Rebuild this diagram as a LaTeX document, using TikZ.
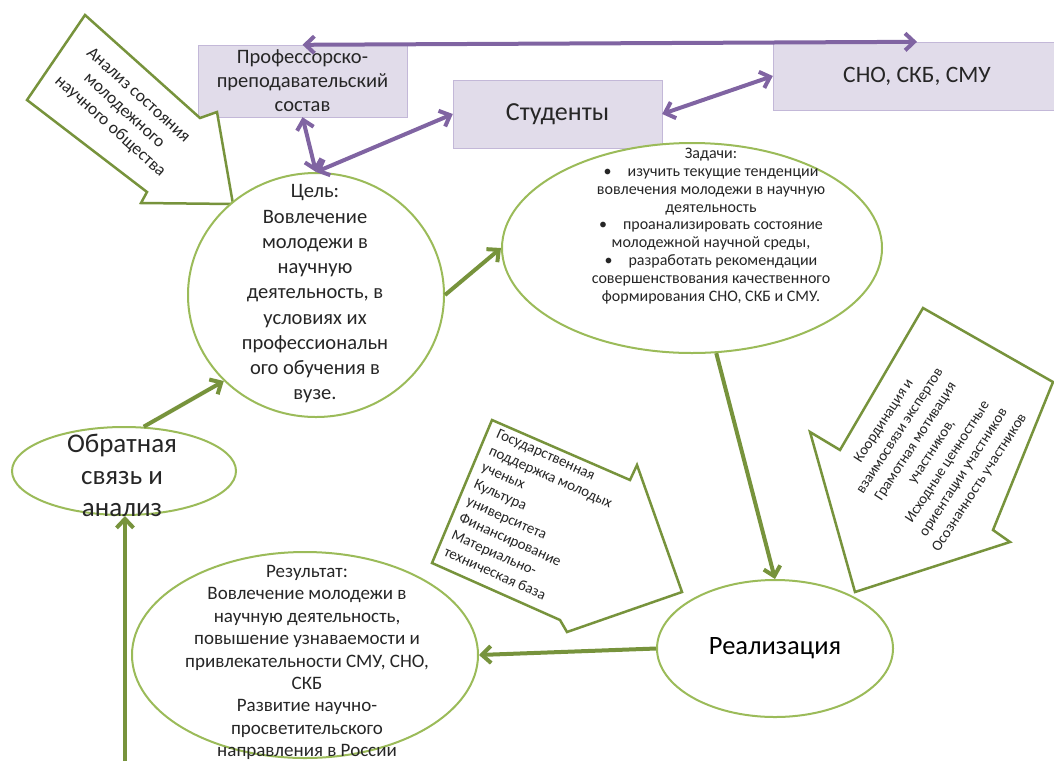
\documentclass[tikz,border=0pt]{standalone}
\usepackage{fontspec}
\setmainfont{Carlito}
\usetikzlibrary{arrows.meta,shapes.geometric}
\definecolor{lilac}{HTML}{E1DCEA}
\definecolor{lilacline}{HTML}{C3B8D8}
\definecolor{plum}{HTML}{8064A2}
\definecolor{olive}{HTML}{9BBB59}
\definecolor{darkolive}{HTML}{77933C}
\newcommand{\fs}[2]{\fontsize{#1}{#2}\selectfont}

\begin{document}
\begin{tikzpicture}[x=1pt,y=-1pt,>={Straight Barb[length=9pt,width=17pt]},
box/.style={draw=lilacline,fill=lilac,minimum height=68pt,inner sep=0pt,align=center,text=black!85},
bubble/.style={draw=olive,line width=2pt,ellipse,inner sep=0pt,fill=white},
txt/.style={align=center,inner sep=0pt,text=black!85},
link/.style={<->,line width=4pt,plum},
flow/.style={->,line width=4pt,darkolive},
bigarrow/.style={draw=darkolive,line width=2.5pt,fill=white,line join=miter}]
\useasboundingbox (0,0) rectangle (1054,761);

\node[box,minimum width=209pt,minimum height=72pt,font=\fs{20.5}{24}] (staff) at (302.5,81) {Профессорско-\\преподавательский\\состав};
\node[box,minimum width=209pt,font=\fs{26}{30}] (students) at (557.5,114) {Студенты};
\node[box,minimum width=288pt,font=\fs{23.5}{28}] (sno) at (917,76) {СНО, СКБ, СМУ};

\draw[bigarrow] (85,15) -- (200,118) -- (217,112) -- (233,204) -- (141,203) -- (147,192) -- (27,100) -- cycle;
\draw[bigarrow] (492,420) -- (630,480) -- (637,465) -- (682,592) -- (567,632) -- (560,620) -- (432,563) -- cycle;
\draw[bigarrow] (923,308) -- (1053,382) -- (993,530) -- (1010,542) -- (855,592) -- (810,432) -- (840,450) -- cycle;
\node[txt,rotate=-42,font=\fs{17.5}{21}] (analysis) at (124,111) {Анализ состояния\\молодежного\\научного общества};
\node[txt,rotate=-24,align=left,font=\fs{15}{18.5}] (support) at (532,519) {Государственная\\поддержка молодых\\ученых\\Культура\\университета\\Финансирование\\Материально-\\техническая база};
\node[txt,rotate=57,font=\fs{14.8}{19}] (factors) at (932,452) {Координация и\\взаимосвязи экспертов\\Грамотная мотивация\\участников,\\Исходные ценностные\\ориентации участников\\Осознанность участников};

\node[bubble,minimum width=256pt,minimum height=244pt] (goal) at (316,295) {};
\node[txt,font=\fs{20.5}{25.25}] (goaltxt) at (315,294) {Цель:\\Вовлечение\\молодежи в\\научную\\деятельность, в\\условиях их\\профессиональн\\ого обучения в\\вузе.};
\node[bubble,minimum width=380pt,minimum height=210pt] (tasks) at (692,248) {};
\node[txt,font=\fs{16}{17.8}] (taskstxt) at (711,226) {Задачи:\\\textbullet\hspace{1em}изучить текущие тенденции\\вовлечения молодежи в научную\\деятельность\\\textbullet\hspace{1em}проанализировать состояние\\молодежной научной среды,\\\textbullet\hspace{1em}разработать рекомендации\\совершенствования качественного\\формирования СНО, СКБ и СМУ.};
\node[bubble,minimum width=236pt,minimum height=137pt,font=\fs{26.5}{30}] (real) at (775,648.5) {Реализация};
\node[bubble,minimum width=346pt,minimum height=206pt] (result) at (305,655) {};
\node[txt,font=\fs{19}{22.4}] (resulttxt) at (307,662.5) {Результат:\\Вовлечение молодежи в\\научную деятельность,\\повышение узнаваемости и\\привлекательности СМУ, СНО,\\СКБ\\Развитие научно-\\просветительского\\направления в России};
\node[bubble,minimum width=224pt,minimum height=88pt] (feedback) at (124,471) {};
\node[txt,font=\fs{27}{32}] (feedbacktxt) at (122,475) {Обратная\\связь и\\анализ};
\coordinate (fbfoot) at (125,761);

\draw[link] (staff.north) -- (sno.north);
\draw[link] (students.east) -- (sno.west);
\draw[link] (staff.south) -- (goal.north);
\draw[link] (students.west) -- (goal.north);
\draw[flow] (goal.east) -- (tasks.west);
\draw[flow] (tasks.-77) -- (real.north);
\draw[flow] (real.west) -- (result.east);
\draw[flow] (fbfoot) -- (fbfoot |- feedback.south);
\draw[flow] (feedback.66) -- (goal.223);
\end{tikzpicture}
\end{document}
